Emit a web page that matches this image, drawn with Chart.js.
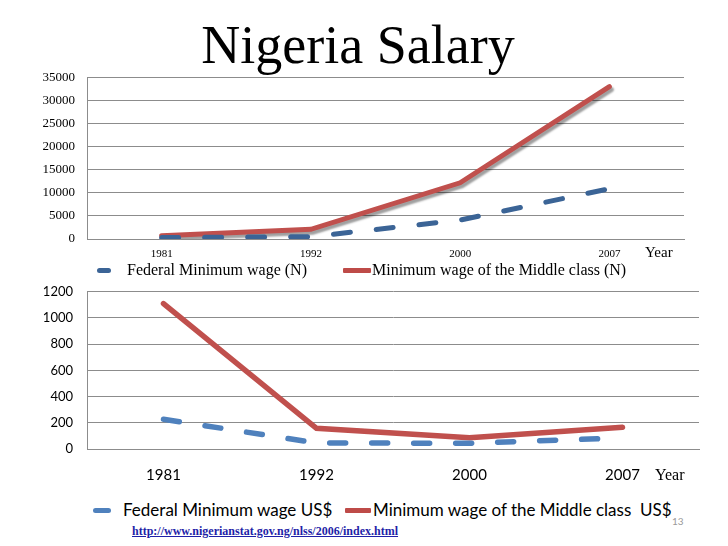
<!DOCTYPE html>
<html>
<head>
<meta charset="utf-8">
<script src="https://cdn.jsdelivr.net/npm/chart.js@4/dist/chart.umd.min.js"></script>
<style>
  html, body { margin: 0; padding: 0; background: #fff; }
  body { width: 728px; height: 546px; position: relative; overflow: hidden; }
  .abs { position: absolute; white-space: nowrap; }
  #title { left: -6px; width: 728px; top: 15px; text-align: center; font-family: "Liberation Serif", "Times New Roman", serif; font-size: 54px; line-height: 60px; color: #000; }
  #c1wrap { position: absolute; left: 0; top: 58px; width: 728px; height: 204px; }
  #c2wrap { position: absolute; left: 0; top: 270px; width: 728px; height: 210px; }
  canvas { display: block; }
  .serif { font-family: "Liberation Serif", "Times New Roman", serif; color: #000; }
  .sans { font-family: Lato, "Liberation Sans", sans-serif; color: #000; }
  .mk { position: absolute; height: 5px; border-radius: 3px; }
  #url { left: 132px; top: 524px; font-family: "Liberation Serif", serif; font-weight: bold; font-size: 12px; color: #1f1fa8; text-decoration: underline; }
  #pg { left: 672px; top: 515px; font-family: Lato, sans-serif; font-size: 10px; color: #9a9a9a; }
</style>
</head>
<body>
<div id="title" class="abs">Nigeria Salary</div>
<div id="c1wrap"><canvas id="c1" width="728" height="204"></canvas></div>
<div id="c2wrap"><canvas id="c2" width="728" height="210"></canvas></div>

<div class="abs serif" style="left:645px; top:244px; font-size:15px;">Year</div>
<div class="mk" style="left:97px; top:268px; width:14px; background:#3b6496;"></div>
<div class="abs serif" style="left:127px; top:261px; font-size:16px;" id="lg1a">Federal Minimum wage (N)</div>
<div class="mk" style="left:343px; top:268px; width:28px; background:#be4b48; border-radius:1px;"></div>
<div class="abs serif" style="left:372px; top:261px; font-size:16px;" id="lg1b">Minimum wage of the Middle class (N)</div>

<div class="abs serif" style="left:655px; top:466px; font-size:16px;">Year</div>
<div class="mk" style="left:93px; top:508px; width:18px; background:#4f81bd;"></div>
<div class="abs sans" style="left:123px; top:499px; font-size:17px;" id="lg2a">Federal Minimum wage US$</div>
<div class="mk" style="left:345px; top:508px; width:26px; background:#be4b48; border-radius:1px;"></div>
<div class="abs sans" style="left:373px; top:499px; font-size:17px;" id="lg2b">Minimum wage of the Middle class&nbsp; US$</div>

<div id="url" class="abs">http://www.nigerianstat.gov.ng/nlss/2006/index.html</div>
<div id="pg" class="abs">13</div>

<script>
// ---- Data ----
const years = ['1981', '1992', '2000', '2007'];
const fedMinNaira = [300, 500, 4100, 10900];
const middleNaira = [700, 2100, 12200, 33100];
const fedMinUSD = [227, 46, 44, 85];
const middleUSD = [1110, 158, 85, 166];
const ticksNaira = [0, 5000, 10000, 15000, 20000, 25000, 30000, 35000];
const ticksUSD = [0, 200, 400, 600, 800, 1000, 1200];

const gridColor = '#8c8c8c';

const shadowPlugin = {
  id: 'lineShadow',
  beforeDatasetDraw(chart, args, opts) {
    if (opts && opts.index === args.index) {
      const ctx = chart.ctx;
      ctx.save();
      ctx.shadowColor = 'rgba(0,0,0,0.38)';
      ctx.shadowOffsetX = 2;
      ctx.shadowOffsetY = 3;
      ctx.shadowBlur = 2;
      chart.$shadowOn = true;
    }
  },
  afterDatasetDraw(chart, args, opts) {
    if (chart.$shadowOn && opts && opts.index === args.index) {
      chart.ctx.restore();
      chart.$shadowOn = false;
    }
  }
};

function makeChart(id, cfg) {
  return new Chart(document.getElementById(id), {
    type: 'line',
    data: {
      labels: years,
      datasets: cfg.datasets
    },
    plugins: [shadowPlugin],
    options: {
      responsive: false,
      animation: false,
      layout: { padding: cfg.padding },
      plugins: {
        legend: { display: false },
        tooltip: { enabled: false },
        lineShadow: { index: cfg.shadowIndex }
      },
      elements: { point: { radius: 0 }, line: { tension: 0 } },
      scales: {
        x: {
          offset: true,
          grid: { display: false, drawTicks: false },
          border: { display: true, color: gridColor },
          ticks: { color: '#000', font: cfg.xFont, padding: cfg.xPad, maxRotation: 0 },
          afterFit(s) { s.height = cfg.xHeight; }
        },
        y: {
          min: 0,
          max: cfg.max,
          afterBuildTicks(s) { s.ticks = cfg.ticks.map(v => ({ value: v })); },
          grid: { color: gridColor, drawTicks: false },
          border: { display: true, color: gridColor },
          ticks: { color: '#000', font: cfg.yFont, padding: cfg.yPad, callback: v => String(v) },
          afterFit(s) { s.width = 87; }
        }
      }
    }
  });
}

makeChart('c1', {
  padding: { top: 0, right: 44, left: 0, bottom: 0 },
  xHeight: 23, xPad: 9, yPad: 12, max: 35000, ticks: ticksNaira,
  xFont: { family: 'Liberation Serif', size: 11 },
  yFont: { family: 'Liberation Serif', size: 13 },
  shadowIndex: 1,
  datasets: [
    { label: 'Federal Minimum wage (N)', data: fedMinNaira, borderColor: '#3b6496', borderWidth: 5,
      borderDash: [17, 26], borderCapStyle: 'round', fill: false },
    { label: 'Minimum wage of the Middle class (N)', data: middleNaira, borderColor: '#c0504d', borderWidth: 5,
      borderCapStyle: 'round', fill: false }
  ]
});

makeChart('c2', {
  padding: { top: 0, right: 29, left: 0, bottom: 0 },
  xHeight: 31, xPad: 17, yPad: 14, max: 1200, ticks: ticksUSD,
  xFont: { family: 'Lato', size: 15 },
  yFont: { family: 'Lato', size: 13 },
  shadowIndex: -1,
  datasets: [
    { label: 'Federal Minimum wage US$', data: fedMinUSD, borderColor: '#4f81bd', borderWidth: 5.5,
      borderDash: [16, 26], borderCapStyle: 'round', fill: false },
    { label: 'Minimum wage of the Middle class  US$', data: middleUSD, borderColor: '#c0504d', borderWidth: 5.5,
      borderCapStyle: 'round', fill: false }
  ]
});
</script>
</body>
</html>
